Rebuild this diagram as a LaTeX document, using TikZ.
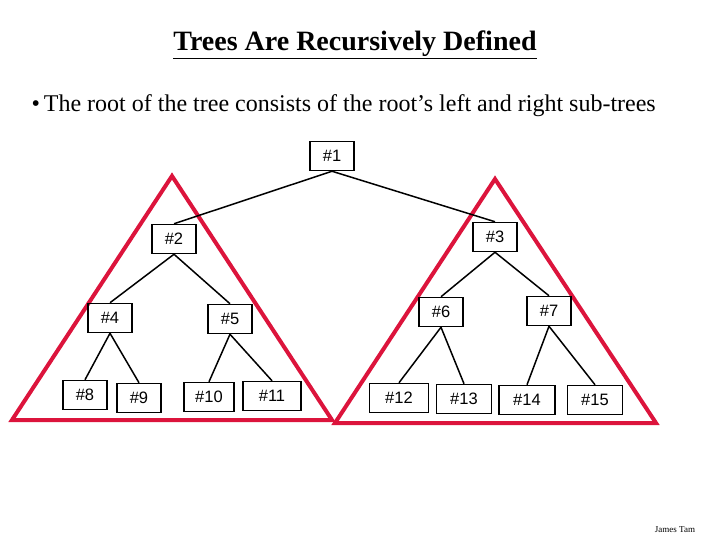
\documentclass[tikz,border=0pt]{standalone}
\usepackage{fontspec}
\setmainfont{Liberation Serif}
\newfontfamily\arialfont{Liberation Sans}
\definecolor{treered}{RGB}{220,20,60}

\begin{document}
\begin{tikzpicture}[x=1pt, y=-1pt,
    box/.style={draw, line width=1.5pt, minimum width=44pt, minimum height=29pt,
        inner sep=0pt, font=\arialfont\fontsize{16.5}{16.5}\selectfont},
    edge/.style={line width=1.5pt}]
    \useasboundingbox (0,0) rectangle (720,540);

    % 标题与说明
    \node (title) at (355,45) {\fontsize{28}{28}\selectfont\underline{\textbf{Trees Are Recursively Defined}}};
    \node[anchor=west] (bullet) at (28,106) {\fontsize{24}{24}\selectfont\textbullet\,The root of the tree consists of the root’s left and right sub-trees};

    % 红色子树三角形
    \draw[treered, line width=4pt] (172,176) -- (332,420) -- (12,420) -- cycle;
    \draw[treered, line width=4pt] (495,179) -- (656,423) -- (335,423) -- cycle;

    % 树的结点
    \node[box] (n1) at (332,156) {\#1};
    \node[box] (n2) at (174,239) {\#2};
    \node[box] (n3) at (495,237) {\#3};
    \node[box] (n4) at (110,318) {\#4};
    \node[box] (n5) at (230,319) {\#5};
    \node[box] (n6) at (441,312) {\#6};
    \node[box] (n7) at (549,311) {\#7};
    \node[box] (n8) at (85,395) {\#8};
    \node[box] (n9) at (139,398) {\#9};
    \node[box, minimum width=50pt] (n10) at (209,397) {\#10};
    \node[box, minimum width=58pt] (n11) at (272,396) {\#11};
    \node[box, minimum width=59pt] (n12) at (399,398) {\#12};
    \node[box, minimum width=55pt] (n13) at (464,399) {\#13};
    \node[box, minimum width=56pt] (n14) at (527,400) {\#14};
    \node[box, minimum width=55pt] (n15) at (595,400) {\#15};

    % 连线
    \foreach \p/\a/\b in {1/2/3, 2/4/5, 3/6/7, 4/8/9, 5/10/11, 6/12/13, 7/14/15}
        \draw[edge] (n\p.south) -- (n\a.north) (n\p.south) -- (n\b.north);

    \node (author) at (675,530) {\fontsize{9}{9}\selectfont James Tam};
\end{tikzpicture}
\end{document}
